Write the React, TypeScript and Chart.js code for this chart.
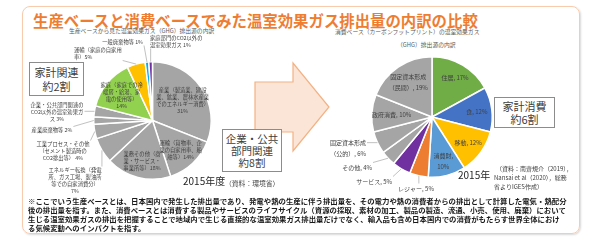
import React, { useEffect, useRef } from "react";
import { Chart, registerables } from "chart.js";

Chart.register(...registerables);

const FONT = '"Noto Sans CJK JP", "Noto Sans", sans-serif';

// ---------- Production-based (left pie) ----------
const prodCategories = [
  "産業", "運輸（企業）", "業務その他", "エネルギー転換", "工業プロセス・その他",
  "産業廃棄物等", "企業・公共部門関連のCO2以外の温室効果ガス", "家庭",
  "運輸（家庭の自家用車）", "一般廃棄物等", "家庭部門のCO2以外の温室効果ガス",
];
const prodValues = [31, 14, 18, 7, 4, 2, 3, 14, 5, 1, 1];
const prodColors = [
  "#A5A5A5", "#A5A5A5", "#A5A5A5", "#A5A5A5", "#A5A5A5", "#A5A5A5", "#A5A5A5",
  "#92D050", "#FFC000", "#00B0F0", "#7030A0",
];
const prodLabelLines = [
  ["産業（製造業、建設", "業、鉱業、農林水産業", "でのエネルギー消費）", "{v}%"],
  ["運輸（貨物車、企", "業の自家用車、船", "舶等）{v}%"],
  ["業務その他（商", "業・サービス・", "事業所等）{v}%"],
  ["エネルギー転換（発電", "所、ガス工場、製油所", "等での自家消費分）", "{v}%"],
  ["工業プロセス・その他", "（セメント製造時の", "CO2排出等） {v}%"],
  ["産業廃棄物等 {v}%"],
  ["企業・公共部門関連の", "CO2以外の温室効果ガ", "ス {v}%"],
  ["家庭（家庭での冷", "暖房・給湯、家", "電の使用等）", "{v}%"],
  ["運輸（家庭の自家用", "車）{v}%"],
  ["一般廃棄物等 {v}%"],
  ["家庭部門のCO2以外の", "温室効果ガス {v}%"],
];

// ---------- Consumption-based (right pie) ----------
const consCategories = [
  "住居", "食", "移動", "消費財", "レジャー", "サービス", "その他",
  "固定資本形成（公的）", "政府消費", "固定資本形成（民間）",
];
const consValues = [17, 12, 12, 10, 5, 5, 4, 6, 10, 19];
const consColors = [
  "#70AD47", "#4472C4", "#FFC000", "#5B9BD5", "#ED7D31", "#7030A0",
  "#A5A5A5", "#A5A5A5", "#A5A5A5", "#A5A5A5",
];
const consLabelLines = [
  ["住居, {v}%"],
  ["食, {v}%"],
  ["移動, {v}%"],
  ["消費財,", "{v}%"],
  ["レジャー, {v}%"],
  ["サービス, {v}%"],
  ["その他, {v}%"],
  ["固定資本形成", "（公的）, {v}%"],
  ["政府消費, {v}%"],
  ["固定資本形成", "（民間）, {v}%"],
];

const footnoteLines = [
  "※ここでいう生産ベースとは、日本国内で発生した排出量であり、発電や熱の生産に伴う排出量を、その電力や熱の消費者からの排出として計算した電気・熱配分",
  "後の排出量を指す。また、消費ベースとは消費する製品やサービスのライフサイクル（資源の採取、素材の加工、製品の製造、流通、小売、使用、廃棄）において",
  "生じる温室効果ガスの排出を把握することで地域内で生じる直接的な温室効果ガス排出量だけでなく、輸入品も含め日本国内での消費がもたらす世界全体におけ",
  "る気候変動へのインパクトを指す。",
];

// ---------- label layout (placement only) ----------
type Place =
  | { inside: true; f: number }
  | { inside: false; x: number; y: number; align: CanvasTextAlign };

const prodPlaces: Place[] = [
  { inside: true, f: 0.62 },
  { inside: true, f: 0.7 },
  { inside: true, f: 0.72 },
  { inside: false, x: 75, y: 170, align: "center" },
  { inside: false, x: 63, y: 144, align: "center" },
  { inside: false, x: 52, y: 130, align: "center" },
  { inside: false, x: 57, y: 105, align: "center" },
  { inside: true, f: 0.68 },
  { inside: false, x: 74, y: 50, align: "left" },
  { inside: false, x: 143, y: 42, align: "right" },
  { inside: false, x: 150, y: 38, align: "left" },
];

const consPlaces: Place[] = [
  { inside: true, f: 0.75 },
  { inside: true, f: 0.75 },
  { inside: true, f: 0.74 },
  { inside: true, f: 0.75 },
  { inside: false, x: 416, y: 189, align: "center" },
  { inside: false, x: 392, y: 182, align: "right" },
  { inside: false, x: 372, y: 168, align: "right" },
  { inside: false, x: 366, y: 143, align: "right" },
  { inside: true, f: 0.67 },
  { inside: true, f: 0.7 },
];

function makeLabelPlugin(
  lines: string[][],
  places: Place[],
  fontSize: number,
  lineHeight: number
) {
  return {
    id: "sliceLabels",
    afterDatasetsDraw(chart: any) {
      const ctx: CanvasRenderingContext2D = chart.ctx;
      const meta = chart.getDatasetMeta(0);
      const values = chart.data.datasets[0].data as number[];
      ctx.save();
      ctx.font = `${fontSize}px ${FONT}`;
      ctx.fillStyle = "#404040";
      ctx.textBaseline = "middle";
      meta.data.forEach((arc: any, i: number) => {
        const pl = places[i];
        const p = arc.getProps(["x", "y", "startAngle", "endAngle", "outerRadius"], true);
        const mid = (p.startAngle + p.endAngle) / 2;
        const txt = lines[i].map((s) => s.replace("{v}", String(values[i])));
        if (pl.inside) {
          const cx = p.x + Math.cos(mid) * p.outerRadius * pl.f;
          const cy = p.y + Math.sin(mid) * p.outerRadius * pl.f;
          ctx.textAlign = "center";
          txt.forEach((l, k) =>
            ctx.fillText(l, cx, cy + (k - (txt.length - 1) / 2) * lineHeight)
          );
        } else {
          const widths = txt.map((l) => ctx.measureText(l).width);
          const w = Math.max(...widths);
          const left = pl.align === "left" ? pl.x : pl.align === "right" ? pl.x - w : pl.x - w / 2;
          const top = pl.y - lineHeight / 2;
          const bottom = pl.y + (txt.length - 1) * lineHeight + lineHeight / 2;
          const ex = p.x + Math.cos(mid) * p.outerRadius;
          const ey = p.y + Math.sin(mid) * p.outerRadius;
          const lx = Math.min(Math.max(ex, left - 1), left + w + 1);
          const ly = Math.min(Math.max(ey, top), bottom);
          ctx.strokeStyle = "#A6A6A6";
          ctx.lineWidth = 0.7;
          ctx.beginPath();
          ctx.moveTo(ex, ey);
          ctx.lineTo(lx, ly);
          ctx.stroke();
          ctx.textAlign = pl.align;
          txt.forEach((l, k) => ctx.fillText(l, pl.x, pl.y + k * lineHeight));
        }
      });
      ctx.restore();
    },
  };
}

type PieProps = {
  categories: string[];
  values: number[];
  colors: string[];
  lines: string[][];
  places: Place[];
  padding: { left: number; right: number; top: number; bottom: number };
  fontSize: number;
  lineHeight: number;
};

function PieCanvas(props: PieProps) {
  const ref = useRef<HTMLCanvasElement>(null);
  useEffect(() => {
    const chart = new Chart(ref.current as HTMLCanvasElement, {
      type: "pie",
      data: {
        labels: props.categories,
        datasets: [
          {
            data: props.values,
            backgroundColor: props.colors,
            borderColor: "#FFFFFF",
            borderWidth: 1.5,
          },
        ],
      },
      options: {
        responsive: false,
        animation: false,
        devicePixelRatio: 1,
        events: [],
        layout: { padding: props.padding },
        plugins: { legend: { display: false }, tooltip: { enabled: false } },
      },
      plugins: [makeLabelPlugin(props.lines, props.places, props.fontSize, props.lineHeight)],
    } as any);
    return () => chart.destroy();
  }, []);
  return (
    <canvas
      ref={ref}
      width={600}
      height={240}
      style={{ position: "absolute", left: 0, top: 0, width: 600, height: 240 }}
    />
  );
}

function T(p: {
  x: number;
  y: number;
  size: number;
  lh?: number;
  color?: string;
  weight?: number | string;
  children: React.ReactNode;
}) {
  const lh = p.lh ?? Math.round(p.size * 1.25);
  return (
    <div
      style={{
        position: "absolute",
        left: p.x,
        top: p.y - lh / 2,
        fontSize: p.size,
        lineHeight: `${lh}px`,
        color: p.color ?? "#404040",
        fontWeight: p.weight ?? 400,
        whiteSpace: "nowrap",
        fontFamily: FONT,
      }}
    >
      {p.children}
    </div>
  );
}

function Box(p: { x: number; y: number; w: number; h: number; lines: string[]; size: number; lh: number }) {
  return (
    <div
      style={{
        position: "absolute",
        left: p.x,
        top: p.y,
        width: p.w,
        height: p.h,
        boxSizing: "border-box",
        border: "1px solid #8C8C8C",
        background: "#FFFFFF",
        display: "flex",
        flexDirection: "column",
        justifyContent: "center",
        alignItems: "center",
        fontFamily: FONT,
        fontSize: p.size,
        lineHeight: `${p.lh}px`,
        color: "#404040",
      }}
    >
      {p.lines.map((l, i) => (
        <div key={i} style={{ whiteSpace: "nowrap" }}>{l}</div>
      ))}
    </div>
  );
}

export default function App() {
  return (
    <div
      style={{
        position: "absolute",
        left: 0,
        top: 0,
        width: 600,
        height: 240,
        background: "#FFFFFF",
        overflow: "hidden",
        fontFamily: FONT,
      }}
    >
      <div
        style={{
          position: "absolute",
          left: 22,
          top: 6,
          width: 558,
          height: 228,
          boxSizing: "border-box",
          border: "1.5px solid #F8CBAD",
          borderRadius: 8,
          boxShadow: "1px 1px 2px rgba(0,0,0,0.15)",
        }}
      />
      <T x={33} y={20} size={15.4} lh={20} color="#EE7D31" weight={700}>
        生産ベースと消費ベースでみた温室効果ガス排出量の内訳の比較
      </T>

      <T x={69} y={31} size={5.8} lh={8} color="#595959">
        生産ベースから見た温室効果ガス（GHG）排出源の内訳
      </T>
      <T x={335} y={32} size={5.8} lh={8} color="#595959">
        消費ベース（カーボンフットプリント）の温室効果ガス
      </T>
      <T x={397} y={45} size={5.8} lh={8} color="#595959">
        （GHG）排出源の内訳
      </T>

      <svg
        width={600}
        height={240}
        style={{ position: "absolute", left: 0, top: 0 }}
      >
        <polygon
          points="255,82 293,82 293,63 329,107 293,151 293,132 255,132"
          fill="#FBE5D6"
          stroke="#F4B183"
          strokeWidth={1.2}
        />
      </svg>

      <PieCanvas
        categories={prodCategories}
        values={prodValues}
        colors={prodColors}
        lines={prodLabelLines}
        places={prodPlaces}
        padding={{ left: 93, right: 388, top: 61, bottom: 60 }}
        fontSize={5.3}
        lineHeight={7}
      />
      <PieCanvas
        categories={consCategories}
        values={consValues}
        colors={consColors}
        lines={consLabelLines}
        places={consPlaces}
        padding={{ left: 371, right: 107, top: 56, bottom: 62 }}
        fontSize={6}
        lineHeight={11}
      />

      <Box x={29} y={62} w={55} h={34} lines={["家計関連", "約2割"]} size={11} lh={14} />
      <Box x={222} y={129} w={60} h={43} lines={["企業・公共", "部門関連", "約8割"]} size={10.5} lh={12} />
      <Box x={494} y={97} w={61} h={31} lines={["家計消費", "約6割"]} size={11} lh={13} />

      <T x={183} y={181} size={10} lh={12} color="#262626">2015年度</T>
      <T x={225} y={183} size={6.8} lh={9} color="#404040">（資料：環境省）</T>
      <T x={458} y={175} size={10} lh={12} color="#262626">2015年</T>
      <T x={496} y={168} size={6} lh={9} color="#404040">（資料：南齋規介（2019），</T>
      <T x={494} y={177} size={6} lh={9} color="#404040">Nansai et al（2020），総務</T>
      <T x={494} y={186} size={6} lh={9} color="#404040">省よりIGES作成）</T>

      {footnoteLines.map((l, i) => (
        <T key={i} x={28} y={200 + i * 9} size={7.4} lh={9} color="#1A1A1A" weight={700}>
          {l}
        </T>
      ))}
    </div>
  );
}
